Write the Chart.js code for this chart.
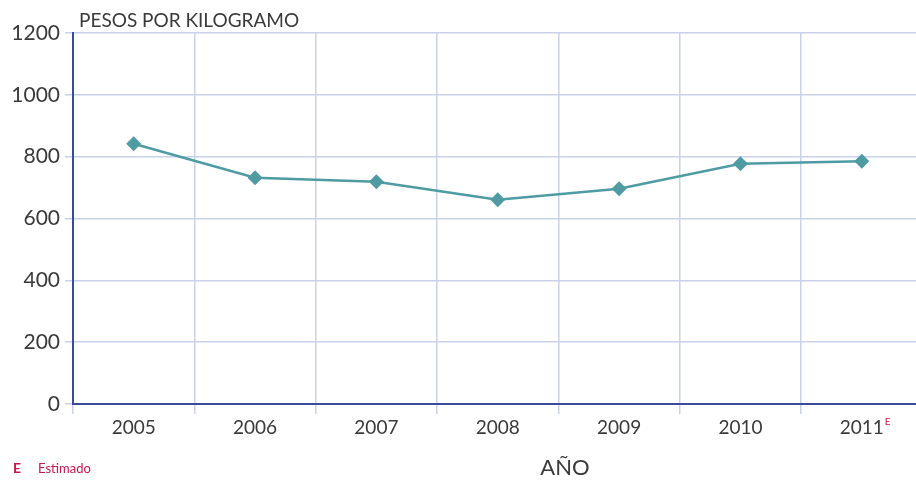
<!DOCTYPE html>
<html>
<head>
<meta charset="utf-8">
<script src="https://cdn.jsdelivr.net/npm/chart.js@4.4.1/dist/chart.umd.min.js"></script>
<style>
  html, body { margin: 0; padding: 0; background: #ffffff; }
  #wrap { width: 916px; height: 482px; overflow: hidden; position: relative; }
  canvas { display: block; }
</style>
</head>
<body>
<div id="wrap"><canvas id="c" width="930" height="482"></canvas></div>
<script>
// Precio por kilogramo, 2005–2011 (2011 estimado)
const years = ['2005', '2006', '2007', '2008', '2009', '2010', '2011'];
const pricePerKg = [842, 732, 719, 661, 696, 777, 785];
const yTicks = [0, 200, 400, 600, 800, 1000, 1200];
const estimatedYear = '2011';

const navy = '#3a4a9c';
const gridBlue = '#c9d0ea';
const teal = '#4f9ba4';
const textGray = '#3a3a3a';
const crimson = '#c8174a';
const fontFamily = 'Lato, "Open Sans", sans-serif';

const annotations = {
  id: 'annotations',
  afterDraw(chart) {
    const ctx = chart.ctx;
    const area = chart.chartArea;
    const xs = chart.scales.x;
    ctx.save();
    // units caption inside top of plot
    ctx.fillStyle = textGray;
    ctx.font = '19px ' + fontFamily;
    ctx.textAlign = 'left';
    ctx.textBaseline = 'alphabetic';
    ctx.fillText('PESOS POR KILOGRAMO', area.left + 6, 27);

    // axis title
    ctx.font = '22px ' + fontFamily;
    ctx.textAlign = 'center';
    ctx.fillText('AÑO', 565, 475);

    // "E" superscript on the estimated year
    const idx = years.indexOf(estimatedYear);
    const cx = xs.getPixelForValue(idx);
    ctx.font = '19px ' + fontFamily;
    const w = ctx.measureText(estimatedYear).width;
    ctx.fillStyle = crimson;
    ctx.font = '10px ' + fontFamily;
    ctx.textAlign = 'left';
    ctx.fillText('E', cx + w / 2 + 1, 425);

    // footnote
    ctx.font = 'bold 14px ' + fontFamily;
    ctx.fillText('E', 13, 473);
    ctx.font = '13px ' + fontFamily;
    ctx.fillText('Estimado', 38, 473);
    ctx.restore();
  }
};

new Chart(document.getElementById('c'), {
  type: 'line',
  data: {
    labels: years,
    datasets: [{
      data: pricePerKg,
      borderColor: teal,
      borderWidth: 2.5,
      backgroundColor: teal,
      pointStyle: 'rectRot',
      pointRadius: 7.5,
      pointBackgroundColor: teal,
      pointBorderColor: teal,
      pointBorderWidth: 0,
      tension: 0,
      fill: false
    }]
  },
  options: {
    responsive: false,
    animation: false,
    devicePixelRatio: 1,
    layout: { padding: { top: 33, right: 3, left: 0, bottom: 0 } },
    plugins: { legend: { display: false }, tooltip: { enabled: false } },
    scales: {
      x: {
        type: 'category',
        offset: true,
        grid: { offset: true, color: gridBlue, lineWidth: 1.5, tickLength: 10, drawOnChartArea: true },
        border: { color: navy, width: 2 },
        ticks: { color: textGray, font: { family: fontFamily, size: 19 }, padding: 2, maxRotation: 0 },
        afterFit(scale) { scale.height = 78; }
      },
      y: {
        min: 0,
        max: 1200,
        afterBuildTicks(scale) { scale.ticks = yTicks.map(v => ({ value: v })); },
        grid: { color: gridBlue, lineWidth: 1.5, tickLength: 8 },
        border: { color: navy, width: 2 },
        ticks: {
          color: textGray,
          font: { family: fontFamily, size: 21 },
          padding: 5,
          callback: (v) => String(v)
        },
        afterFit(scale) { scale.width = 73; }
      }
    }
  },
  plugins: [annotations]
});
</script>
</body>
</html>
